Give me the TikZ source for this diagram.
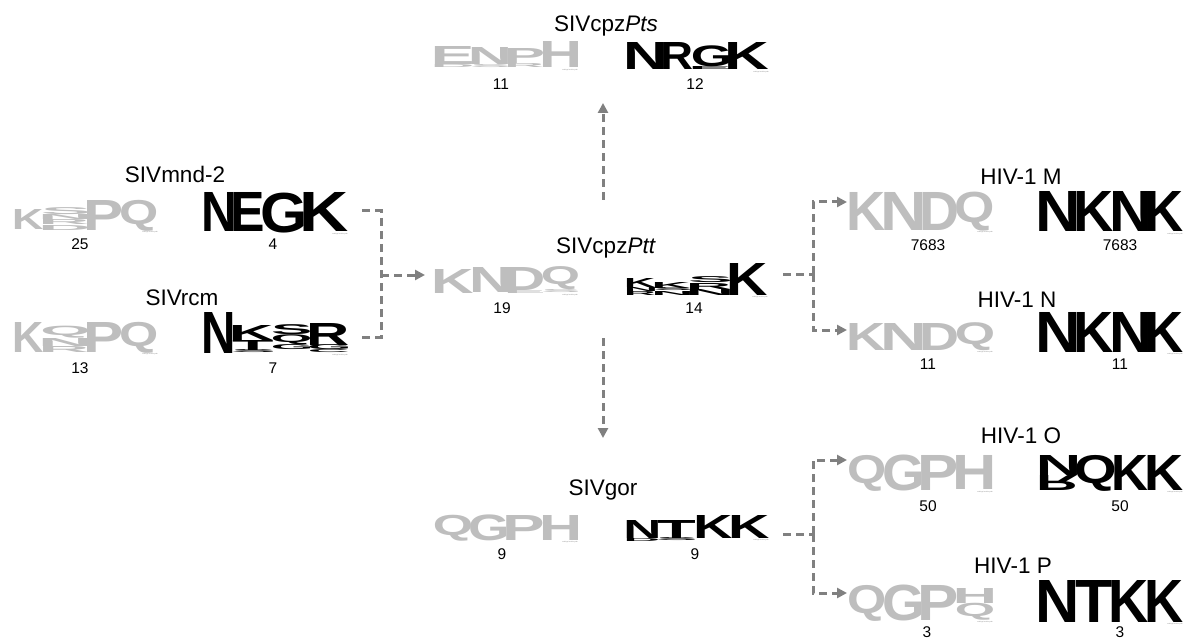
\documentclass[tikz,border=0pt]{standalone}
\usepackage{fontspec}
\setmainfont{Liberation Sans}
\usetikzlibrary{arrows.meta}

\definecolor{logogray}{RGB}{190,190,190}
\definecolor{conngray}{RGB}{128,128,128}

% a letter with its side bearings removed, so that it fills its column
\newcommand\inkletter[1]{%
  \setbox0=\hbox{#1}%
  \dimen0=\XeTeXglyphbounds 1 \XeTeXcharglyph`#1\relax
  \dimen2=\XeTeXglyphbounds 3 \XeTeXcharglyph`#1\relax
  \hbox{\kern-\dimen0\box0\kern-\dimen2}}

\newcounter{glyphno}
\def\lcol{black}
% \lgl{x}{bottom}{width}{height}{letter}: one letter of a sequence logo
\newcommand\lgl[5]{%
  \stepcounter{glyphno}%
  \node[glyph, text=\lcol] (g\theglyphno) at (#1,#2)
    {\resizebox*{#3pt}{#4pt}{\inkletter{#5}}};}
% the same, drawn upside down
\newcommand\lglflip[5]{%
  \stepcounter{glyphno}%
  \node[glyph, text=\lcol] (g\theglyphno) at (#1,#2)
    {\resizebox*{#3pt}{#4pt}{\scalebox{1}[-1]{\inkletter{#5}}}};}
% small credit line under the last column
\newcommand\wm[1]{%
  \stepcounter{glyphno}%
  \node[wmark] (w\theglyphno) at (#1,1.5) {weblogo.berkeley.edu};}

\tikzset{
  glyph/.style={inner sep=0pt, outer sep=0pt, anchor=south west, font=\bfseries},
  taxon/.style={inner sep=0pt, anchor=base, font=\fontsize{22.5}{26}\selectfont},
  countlabel/.style={inner sep=0pt, anchor=base, font=\fontsize{15.5}{18}\selectfont},
  wmark/.style={inner sep=0pt, anchor=north east, text=logogray!70!black,
    font=\fontsize{1.6}{2}\selectfont},
  conn/.style={draw=conngray, line width=3pt, dash pattern=on 8pt off 5pt},
  conntip/.style={-{Triangle[length=10pt,width=10pt]}},
}

\begin{document}
\begin{tikzpicture}[x=1pt,y=-1pt]
\useasboundingbox[fill=white] (0,0) rectangle (1186,639);

% ---------------- taxon names ----------------
\node[taxon] (tPts) at (606,32) {SIVcpz\textit{Pts}};
\node[taxon] (tMnd) at (175,183) {SIVmnd-2};
\node[taxon] (tRcm) at (182,305) {SIVrcm};
\node[taxon] (tPtt) at (606,253) {SIVcpz\textit{Ptt}};
\node[taxon] (tM) at (1021,185) {HIV-1 M};
\node[taxon] (tN) at (1017,307) {HIV-1 N};
\node[taxon] (tGor) at (603,495) {SIVgor};
\node[taxon] (tO) at (1021,443) {HIV-1 O};
\node[taxon] (tP) at (1013,573) {HIV-1 P};

% ---------------- sequence counts ----------------
\node[countlabel] (nPtsA) at (501,90) {11};
\node[countlabel] (nPtsB) at (695,90) {12};
\node[countlabel] (nMndA) at (80,249) {25};
\node[countlabel] (nMndB) at (273,249) {4};
\node[countlabel] (nRcmA) at (80,373) {13};
\node[countlabel] (nRcmB) at (273,373) {7};
\node[countlabel] (nPttA) at (502,313) {19};
\node[countlabel] (nPttB) at (694,313) {14};
\node[countlabel] (nMA) at (928,251) {7683};
\node[countlabel] (nMB) at (1120,251) {7683};
\node[countlabel] (nNA) at (928,369) {11};
\node[countlabel] (nNB) at (1120,369) {11};
\node[countlabel] (nGorA) at (502,559) {9};
\node[countlabel] (nGorB) at (695,559) {9};
\node[countlabel] (nOA) at (928,511) {50};
\node[countlabel] (nOB) at (1120,511) {50};
\node[countlabel] (nPA) at (927,637) {3};
\node[countlabel] (nPB) at (1120,637) {3};

% ---------------- logos: SIVcpzPts ----------------
\begin{scope}[shift={(435,68)}]\def\lcol{logogray}
  \lgl{0}{-3}{37}{18}{E}\lgl{0}{0}{37}{3}{D}
  \lgl{37}{-3}{36}{17}{N}\lgl{37}{0}{36}{3}{S}
  \lgl{73}{-4}{35}{15}{P}\lgl{73}{0}{35}{4}{R}
  \lgl{108}{0}{35}{26}{H}
  \wm{143}
\end{scope}
\begin{scope}[shift={(628,70)}]
  \lgl{0}{0}{36}{27}{N}
  \lgl{36}{0}{29}{27}{R}
  \lgl{65}{-3}{36}{21}{G}\lgl{65}{0}{36}{3}{E}
  \lgl{101}{0}{40}{27}{K}
  \wm{141}
\end{scope}

% ---------------- logos: SIVmnd-2 ----------------
\begin{scope}[shift={(15,230)}]\def\lcol{logogray}
  \lgl{0}{0}{28}{20}{K}
  \lgl{28}{-15}{45}{7}{S}\lgl{28}{-10}{45}{5}{N}
  \lgl{28}{-5}{45}{5}{R}\lgl{28}{0}{45}{5}{D}
  \lgl{73}{0}{34}{30}{P}
  \lgl{107}{1}{35}{31}{Q}
  \wm{143}
\end{scope}
\begin{scope}[shift={(205,232)}]
  \lgl{0}{0}{29}{39}{N}
  \lgl{29}{0}{29}{39}{E}
  \lgl{58}{1}{41}{40}{G}
  \lgl{99}{0}{44}{39}{K}
  \wm{143}
\end{scope}

% ---------------- logos: SIVrcm ----------------
\begin{scope}[shift={(15,352)}]\def\lcol{logogray}
  \lgl{0}{0}{28}{30}{K}
  \lgl{28}{-14}{45}{12}{Q}\lgl{28}{-6}{45}{8}{N}\lgl{28}{0}{45}{6}{R}
  \lgl{73}{0}{34}{30}{P}
  \lgl{107}{1}{35}{31}{Q}
  \wm{143}
\end{scope}
\begin{scope}[shift={(205,353)}]
  \lgl{0}{0}{28}{41}{N}
  \lgl{28}{-13}{40}{15}{K}\lgl{28}{-3}{40}{10}{T}\lgl{28}{0}{40}{3}{S}
  \lgl{68}{-18}{37}{10}{S}\lgl{68}{-8}{37}{10}{Q}\lgl{68}{-3}{37}{5}{G}
  \lgl{105}{-8}{38}{22}{R}\lgl{105}{-3}{38}{5}{G}\lgl{105}{0}{38}{3}{C}
  \wm{143}
\end{scope}

% ---------------- logos: SIVcpzPtt ----------------
\begin{scope}[shift={(435,293)}]\def\lcol{logogray}
  \lgl{0}{0}{38}{24}{K}
  \lgl{38}{-1}{35}{25}{N}
  \lgl{73}{-3}{35}{23}{D}\lgl{73}{0}{35}{3}{E}
  \lgl{108}{-3}{35}{23}{Q}\lgl{108}{0}{35}{3}{S}
  \wm{143}
\end{scope}
\begin{scope}[shift={(627,295)}]
  \lgl{0}{-8}{28}{9}{K}\lgl{0}{-4}{28}{4}{N}\lgl{0}{0}{28}{4}{R}
  \lgl{28}{-7}{35}{6}{K}\lgl{28}{-4}{35}{3}{S}\lgl{28}{0}{35}{4}{N}
  \lgl{63}{-12}{40}{6}{S}\lgl{63}{-6}{40}{6}{R}\lgl{63}{0}{40}{6}{N}
  \lgl{103}{0}{37}{32}{K}
  \wm{141}
\end{scope}

% ---------------- logos: HIV-1 M ----------------
\begin{scope}[shift={(850,230)}]\def\lcol{logogray}
  \lgl{0}{0}{35}{38}{K}
  \lgl{35}{0}{38}{38}{N}
  \lgl{73}{0}{34}{38}{D}
  \lgl{107}{1}{36}{39}{Q}
  \wm{143}
\end{scope}
\begin{scope}[shift={(1040,232)}]
  \lgl{0}{0}{37}{40}{N}
  \lgl{37}{0}{36}{40}{K}
  \lgl{73}{0}{35}{40}{N}
  \lgl{108}{0}{35}{40}{K}
  \wm{143}
\end{scope}

% ---------------- logos: HIV-1 N ----------------
\begin{scope}[shift={(850,350)}]\def\lcol{logogray}
  \lgl{0}{0}{35}{27}{K}
  \lgl{35}{0}{38}{27}{N}
  \lgl{73}{0}{34}{27}{D}
  \lgl{107}{1}{36}{28}{Q}
  \wm{143}
\end{scope}
\begin{scope}[shift={(1040,352)}]
  \lgl{0}{0}{37}{40}{N}
  \lgl{37}{0}{36}{40}{K}
  \lgl{73}{0}{35}{40}{N}
  \lgl{108}{0}{35}{40}{K}
  \wm{143}
\end{scope}

% ---------------- logos: SIVgor ----------------
\begin{scope}[shift={(435,540)}]\def\lcol{logogray}
  \lgl{0}{1}{36}{26}{Q}
  \lgl{36}{1}{36}{26}{G}
  \lgl{72}{0}{36}{25}{P}
  \lgl{108}{0}{35}{25}{H}
  \wm{143}
\end{scope}
\begin{scope}[shift={(627,538)}]
  \lgl{0}{0}{31}{18}{N}\lgl{0}{3}{31}{3}{D}
  \lgl{31}{0}{37}{18}{T}\lgl{31}{3}{37}{3}{S}
  \lgl{70}{0}{35}{23}{K}
  \lgl{105}{0}{37}{23}{K}
  \wm{142}
\end{scope}

% ---------------- logos: HIV-1 O ----------------
\begin{scope}[shift={(850,490)}]\def\lcol{logogray}
  \lgl{0}{1}{35}{36}{Q}
  \lgl{35}{1}{37}{36}{G}
  \lgl{72}{0}{35}{35}{P}
  \lgl{107}{-1}{36}{34}{H}
  \wm{143}
\end{scope}
\begin{scope}[shift={(1040,490)}]
  \lgl{0}{-15}{37}{20}{N}\lglflip{0}{0}{37}{15}{R}
  \lgl{37}{1}{38}{36}{Q}
  \lgl{75}{0}{33}{35}{K}
  \lgl{108}{0}{35}{35}{K}
  \wm{143}
\end{scope}

% ---------------- logos: HIV-1 P ----------------
\begin{scope}[shift={(850,620)}]\def\lcol{logogray}
  \lgl{0}{1}{35}{36}{Q}
  \lgl{35}{1}{37}{36}{G}
  \lgl{72}{0}{35}{35}{P}
  \lgl{107}{-17}{36}{15}{H}\lgl{107}{0}{36}{17}{Q}
  \wm{143}
\end{scope}
\begin{scope}[shift={(1040,622)}]
  \lgl{0}{0}{36}{42}{N}
  \lgl{36}{0}{36}{42}{T}
  \lgl{72}{0}{36}{42}{K}
  \lgl{108}{0}{35}{42}{K}
  \wm{143}
\end{scope}

% ---------------- connectors ----------------
\coordinate (mndOut) at (362,211);
\coordinate (rcmOut) at (362,337);
\coordinate (leftJ) at (381,275);
\coordinate (pttIn) at (425,275);
\coordinate (pttUp) at (603,200);
\coordinate (ptsIn) at (603,103);
\coordinate (pttDown) at (603,338);
\coordinate (gorIn) at (603,438);
\coordinate (pttOut) at (783,274);
\coordinate (rightJa) at (813,274);
\coordinate (hmIn) at (847,202);
\coordinate (hnIn) at (847,330);
\coordinate (gorOut) at (783,534);
\coordinate (rightJb) at (813,534);
\coordinate (hoIn) at (847,460);
\coordinate (hpIn) at (847,593);

\draw[conn] (mndOut) -| (leftJ);
\draw[conn] (rcmOut) -| (leftJ);
\draw[conn,conntip] (leftJ) -- (pttIn);
\draw[conn,conntip] (pttUp) -- (ptsIn);
\draw[conn,conntip] (pttDown) -- (gorIn);
\draw[conn] (pttOut) -- (rightJa);
\draw[conn,conntip] (rightJa) |- (hmIn);
\draw[conn,conntip] (rightJa) |- (hnIn);
\draw[conn] (gorOut) -- (rightJb);
\draw[conn,conntip] (rightJb) |- (hoIn);
\draw[conn,conntip] (rightJb) |- (hpIn);
\end{tikzpicture}
\end{document}
